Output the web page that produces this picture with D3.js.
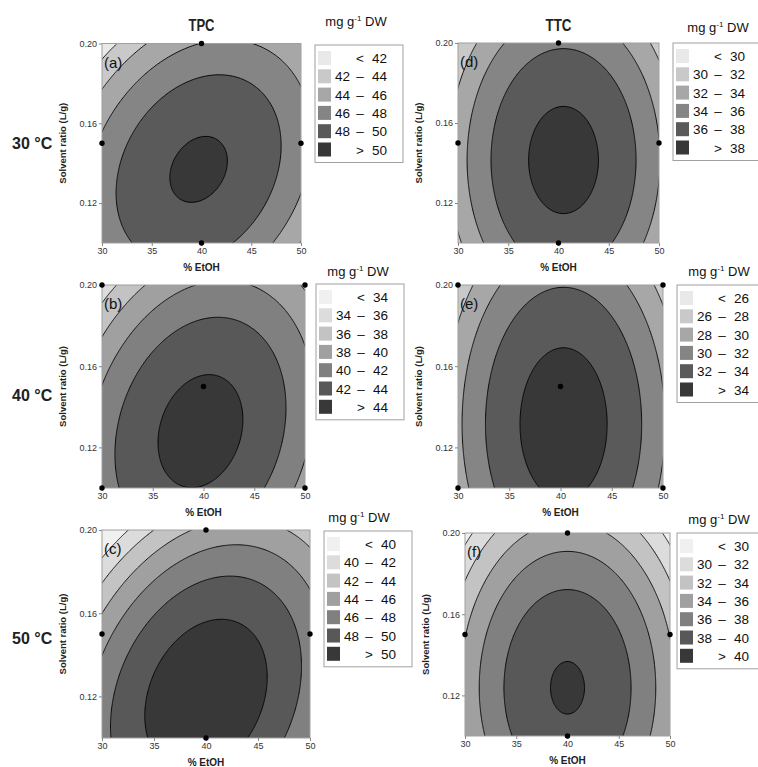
<!DOCTYPE html>
<html>
<head>
<meta charset="utf-8">
<script src="https://cdn.jsdelivr.net/npm/d3@7"></script>
<style>
  body { margin: 0; background: #fff; }
</style>
</head>
<body>
<script>
// response surface: coded model z = b0 + b1*x + b2*y + b11*x^2 + b22*y^2 + b12*x*y
// x = (EtOH - 40) / 10, y = (ratio - 0.15) / 0.05
const tpcCoef = [
    [50.10, 0.200, -1.370, -3.53, -2.70, 1.545],   // 30 °C
    [44.24, 0.294, -1.900, -3.90, -2.20, 1.200],   // 40 °C
    [50.42, 1.032, -3.252, -4.30, -2.71, 1.720]    // 50 °C
];
const ttcCoef = [
    [38.53, 0.500, -0.714, -5.00, -2.10, 0],
    [34.68, 0.300, -1.184, -5.00, -1.60, 0],
    [39.52, 0.000, -2.415, -5.60, -2.30, 0]
];
const tpcLevels = [[42, 44, 46, 48, 50], [34, 36, 38, 40, 42, 44], [40, 42, 44, 46, 48, 50]];
const ttcLevels = [[30, 32, 34, 36, 38], [26, 28, 30, 32, 34], [30, 32, 34, 36, 38, 40]];
const temperatures = ["30 °C", "40 °C", "50 °C"];
const panelTags = [["(a)", "(b)", "(c)"], ["(d)", "(e)", "(f)"]];
const responses = ["TPC", "TTC"];
const etohTicks = [30, 35, 40, 45, 50];
const ratioTicks = [0.12, 0.16, 0.20];
// design points shown on the plots (Box-Behnken)
const edgePoints = [[30, 0.15], [50, 0.15], [40, 0.10], [40, 0.20]];
const cornerPoints = [[30, 0.10], [30, 0.20], [50, 0.10], [50, 0.20], [40, 0.15]];

const width = 758;
const height = 767;

const grays6 = ["#e9e9e9", "#c9c9c9", "#a7a7a7", "#858585", "#5a5a5a", "#383838"];
const grays7 = ["#f0f0f0", "#dcdcdc", "#c3c3c3", "#a0a0a0", "#808080", "#585858", "#383838"];

// plot frames [column][row]
const frames = [
    [
        {x0: 102, x1: 301, y0: 43.5, y1: 243, lx: 315, ly: 45, tx: 356, ty: 26},
        {x0: 102, x1: 305, y0: 285, y1: 488, lx: 316, ly: 284, tx: 358, ty: 276},
        {x0: 102, x1: 310, y0: 530, y1: 738, lx: 324, ly: 531, tx: 359, ty: 522}
    ],
    [
        {x0: 458, x1: 659, y0: 43, y1: 243, lx: 673, ly: 43, tx: 718, ty: 32},
        {x0: 458, x1: 663, y0: 285, y1: 488, lx: 677, ly: 285, tx: 719, ty: 276},
        {x0: 465, x1: 670, y0: 533, y1: 736, lx: 677, ly: 533, tx: 719, ty: 524}
    ]
];

const font = "'Liberation Sans', Arial, sans-serif";

const svg = d3.select("body")
    .append("svg")
    .attr("width", width)
    .attr("height", height)
    .style("font-family", font);

const defs = svg.append("defs");

function model(c, etoh, ratio) {
    const x = (etoh - 40) / 10;
    const y = (ratio - 0.15) / 0.05;
    return c[0] + c[1] * x + c[2] * y + c[3] * x * x + c[4] * y * y + c[5] * x * y;
}

function drawPanel(f, coef, levels, tag, points, id) {
    const colors = levels.length === 5 ? grays6 : grays7;
    const xs = d3.scaleLinear().domain([30, 50]).range([f.x0, f.x1]);
    const ys = d3.scaleLinear().domain([0.10, 0.20]).range([f.y1, f.y0]);

    // sample the fitted surface a bit past the frame, then clip
    const n = 220, m = 220;
    const eLo = 29, eHi = 51, rLo = 0.094, rHi = 0.206;
    const eAt = i => eLo + i * (eHi - eLo) / (n - 1);
    const rAt = j => rHi - j * (rHi - rLo) / (m - 1);
    const values = new Array(n * m);
    for (let j = 0; j < m; j++) {
        for (let i = 0; i < n; i++) {
            values[j * n + i] = model(coef, eAt(i), rAt(j));
        }
    }
    const contours = d3.contours().size([n, m]).thresholds(levels)(values);
    const path = d3.geoPath(d3.geoTransform({
        point: function(px, py) {
            this.stream.point(xs(eAt(px - 0.5)), ys(rAt(py - 0.5)));
        }
    }));

    defs.append("clipPath").attr("id", "clip-" + id)
        .append("rect")
        .attr("x", f.x0).attr("y", f.y0)
        .attr("width", f.x1 - f.x0).attr("height", f.y1 - f.y0);

    const g = svg.append("g");
    const plot = g.append("g").attr("clip-path", `url(#clip-${id})`);
    plot.append("rect")
        .attr("x", f.x0).attr("y", f.y0)
        .attr("width", f.x1 - f.x0).attr("height", f.y1 - f.y0)
        .attr("fill", colors[0]);
    plot.selectAll("path.band")
        .data(contours)
        .join("path")
        .attr("class", "band")
        .attr("d", path)
        .attr("fill", (d, i) => colors[i + 1])
        .attr("stroke", "#000")
        .attr("stroke-width", 0.9);

    g.append("rect")
        .attr("x", f.x0).attr("y", f.y0)
        .attr("width", f.x1 - f.x0).attr("height", f.y1 - f.y0)
        .attr("fill", "none")
        .attr("stroke", "#a0a0a0")
        .attr("stroke-width", 1);

    // axes
    const ax = g.append("g")
        .attr("transform", `translate(0,${f.y1})`)
        .call(d3.axisBottom(xs).tickValues(etohTicks).tickSize(3).tickPadding(2));
    const ay = g.append("g")
        .attr("transform", `translate(${f.x0},0)`)
        .call(d3.axisLeft(ys).tickValues(ratioTicks).tickFormat(d3.format(".2f")).tickSize(3).tickPadding(2));
    [ax, ay].forEach(a => {
        a.select(".domain").remove();
        a.selectAll("line").attr("stroke", "#888");
        a.selectAll("text").style("font-family", font).style("font-size", "9px").attr("fill", "#333");
    });

    g.append("text")
        .attr("x", (f.x0 + f.x1) / 2).attr("y", f.y1 + 28)
        .attr("text-anchor", "middle")
        .style("font-size", "10px").style("font-weight", "bold")
        .attr("fill", "#222")
        .text("% EtOH");
    g.append("text")
        .attr("transform", `translate(${f.x0 - 36},${(f.y0 + f.y1) / 2}) rotate(-90)`)
        .attr("text-anchor", "middle")
        .style("font-size", "9.5px").style("font-weight", "bold")
        .attr("fill", "#222")
        .text("Solvent ratio (L/g)");

    g.selectAll("circle.pt")
        .data(points)
        .join("circle")
        .attr("class", "pt")
        .attr("cx", d => xs(d[0]))
        .attr("cy", d => ys(d[1]))
        .attr("r", 2.7)
        .attr("fill", "#000");

    g.append("text")
        .attr("x", f.x0 + 2).attr("y", f.y0 + 24)
        .style("font-size", "15px")
        .attr("fill", "#111")
        .text(tag);

    // legend
    const rowH = 18.3;
    const rows = levels.length + 1;
    const lg = g.append("g");
    lg.append("rect")
        .attr("x", f.lx).attr("y", f.ly)
        .attr("width", 88).attr("height", 13 + rowH * (rows - 1) + 13)
        .attr("fill", "#fff")
        .attr("stroke", "#a0a0a0");
    const title = lg.append("text")
        .attr("x", f.tx).attr("y", f.ty)
        .attr("text-anchor", "middle")
        .style("font-size", "13px")
        .attr("fill", "#111");
    title.append("tspan").text("mg g");
    title.append("tspan").attr("dy", -5).style("font-size", "8px").text("-1");
    title.append("tspan").attr("dy", 5).text(" DW");

    d3.range(rows).forEach(i => {
        const cy = f.ly + 13 + i * rowH;
        lg.append("rect")
            .attr("x", f.lx + 3).attr("y", cy - 7)
            .attr("width", 13).attr("height", 14)
            .attr("fill", colors[i]);
        const lo = i === 0 ? "" : (i === rows - 1 ? "" : levels[i - 1]);
        const sym = i === 0 ? "<" : (i === rows - 1 ? ">" : "–");
        const hi = i === rows - 1 ? levels[i - 1] : levels[i];
        const t = lg.append("g").style("font-size", "13.5px").attr("fill", "#111");
        t.append("text").attr("x", f.lx + 35).attr("y", cy + 5).attr("text-anchor", "end").text(lo);
        t.append("text").attr("x", f.lx + 45).attr("y", cy + 5).attr("text-anchor", "middle").text(sym);
        t.append("text").attr("x", f.lx + 72).attr("y", cy + 5).attr("text-anchor", "end").text(hi);
    });
}

const coefs = [tpcCoef, ttcCoef];
const levelSets = [tpcLevels, ttcLevels];
responses.forEach((resp, col) => {
    temperatures.forEach((temp, row) => {
        const f = frames[col][row];
        const points = row === 1 ? cornerPoints : edgePoints;
        drawPanel(f, coefs[col][row], levelSets[col][row], panelTags[col][row], points, `${col}-${row}`);
    });
    const f = frames[col][0];
    svg.append("text")
        .attr("x", (f.x0 + f.x1) / 2 - 13).attr("y", 31)
        .attr("textLength", 26).attr("lengthAdjust", "spacingAndGlyphs")
        .style("font-size", "17px").style("font-weight", "bold")
        .attr("fill", "#222")
        .text(resp);
});

const rowY = [143, 395, 638];
temperatures.forEach((temp, row) => {
    svg.append("text")
        .attr("x", 12).attr("y", rowY[row] + 6)
        .style("font-size", "16px").style("font-weight", "bold")
        .attr("fill", "#222")
        .text(temp);
});
</script>
</body>
</html>
